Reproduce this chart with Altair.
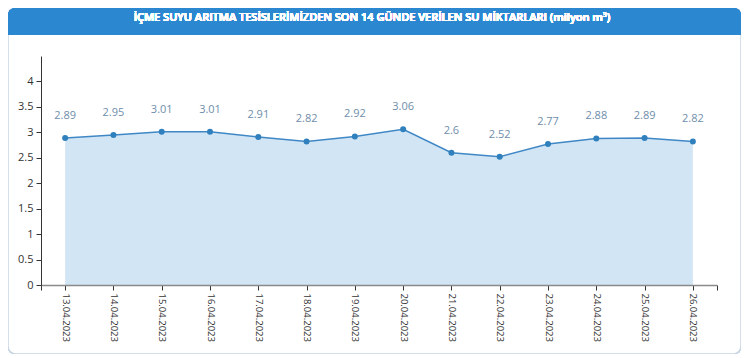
import altair as alt
import pandas as pd

dates = ["13.04.2023", "14.04.2023", "15.04.2023", "16.04.2023", "17.04.2023",
         "18.04.2023", "19.04.2023", "20.04.2023", "21.04.2023", "22.04.2023",
         "23.04.2023", "24.04.2023", "25.04.2023", "26.04.2023"]
values = [2.89, 2.95, 3.01, 3.01, 2.91, 2.82, 2.92, 3.06, 2.6, 2.52, 2.77, 2.88, 2.89, 2.82]
y_ticks = [0, 0.5, 1, 1.5, 2, 2.5, 3, 3.5, 4]
title_text = "İÇME SUYU ARITMA TESİSLERİMİZDEN SON 14 GÜNDE VERİLEN SU MİKTARLARI (milyon m³)"

df = pd.DataFrame({"idx": list(range(len(dates))), "date": dates, "value": values})

FONT = "Open Sans"
W, H = 676, 229

date_arr = "[" + ",".join("'" + d + "'" for d in dates) + "]"
x_ticks = [-0.5] + list(range(len(dates))) + [len(dates) - 0.5]

x_enc = alt.X("idx:Q",
              scale=alt.Scale(domain=[-0.5, len(dates) - 0.5], nice=False, zero=False),
              axis=alt.Axis(values=x_ticks, title=None, grid=False, zindex=1,
                            labelAngle=90, labelFont=FONT, labelFontSize=9.5,
                            labelColor="#333333", labelPadding=3,
                            labelExpr=f"datum.value % 1 == 0 ? {date_arr}[datum.value] : ''",
                            domainColor="#8a8a8a", domainWidth=1.5,
                            tickColor="#333333", tickSize=5))
y_enc = alt.Y("value:Q",
              scale=alt.Scale(domain=[0, 4.5], nice=False),
              axis=alt.Axis(values=y_ticks, title=None, grid=False, zindex=1,
                            labelFont=FONT, labelFontSize=11, labelColor="#333333",
                            labelExpr="'' + datum.value", labelPadding=3,
                            domainColor="#333333", tickColor="#333333", tickSize=5))

base = alt.Chart(df)

card = base.mark_rect(fill="white", stroke="#c9d6e3", strokeWidth=1.5,
                      cornerRadius=8).encode(
    x=alt.value(-33), x2=alt.value(W + 24), y=alt.value(-48), y2=alt.value(298))

header = base.mark_rect(fill="#2b88d0", cornerRadiusTopLeft=8,
                        cornerRadiusTopRight=8).encode(
    x=alt.value(-33), x2=alt.value(W + 24), y=alt.value(-48), y2=alt.value(-21))

title = base.mark_text(text=title_text, font=FONT, fontSize=11, fontWeight=600,
                       color="white", align="center", baseline="middle").encode(
    x=alt.value(331), y=alt.value(-38))

area = base.mark_area(color="#d2e5f5", opacity=1).encode(x=x_enc, y=y_enc)
line = base.mark_line(color="#3f88c5", strokeWidth=1.5).encode(x=x_enc, y=y_enc)
points = base.mark_circle(color="#2f80bd", size=36, opacity=1).encode(x=x_enc, y=y_enc)
labels = base.mark_text(font=FONT, fontSize=11, color="#6f8eab", dy=-22).encode(
    x=x_enc, y=y_enc, text=alt.Text("value:Q", format="~g"))

chart = alt.layer(card, header, title, area, line, points, labels).properties(
    width=W, height=H,
    autosize=alt.AutoSizeParams(type="none"),
    padding={"left": 33, "top": 48, "right": 24, "bottom": 69},
).configure_view(stroke=None)

chart.save("out.html", embed_options={"renderer": "svg", "actions": False})
